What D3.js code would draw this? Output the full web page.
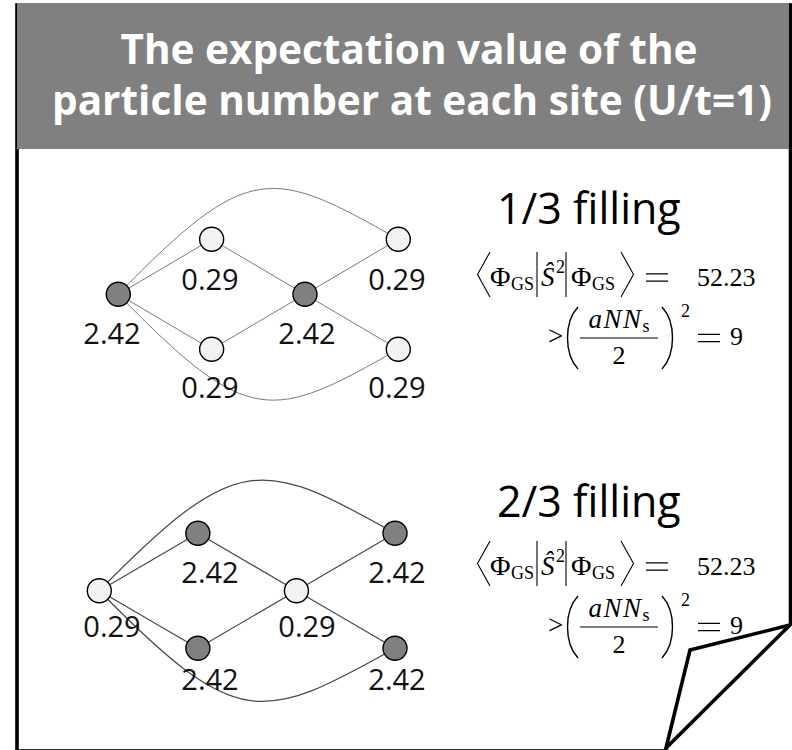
<!DOCTYPE html>
<html>
<head>
<meta charset="utf-8">
<script src="https://cdn.jsdelivr.net/npm/d3@7"></script>
<style>
  html, body { margin: 0; padding: 0; background: #fff; }
  svg { display: block; }
</style>
</head>
<body>
<svg id="chart" width="792" height="750"></svg>
<script>
// ---- data ----
const titleLines = ["The expectation value of the", "particle number at each site (U/t=1)"];

// six lattice sites: column index and row offset (-1 upper, 0 middle, +1 lower)
const siteColumn = [0, 1, 1, 2, 3, 3];
const siteRow = [0, -1, 1, 0, -1, 1];

// nearest-neighbour bonds between sites
const bonds = [[0, 1], [0, 2], [1, 3], [2, 3], [3, 4], [3, 5]];
// bonds that wrap round the lattice: [from, to, side it bows toward]
const wrapBonds = [[0, 4, -1], [0, 5, 1]];

// fillings and the expectation value of the particle number per site
const fillings = ["1/3 filling", "2/3 filling"];
const occupationOneThird = [2.42, 0.29, 0.29, 2.42, 0.29, 0.29];
const occupationTwoThirds = [0.29, 2.42, 2.42, 0.29, 2.42, 2.42];
const occupations = [occupationOneThird, occupationTwoThirds];

// <Phi_GS|S^2|Phi_GS> and the bound (a N N_s / 2)^2
const spinSquared = [52.23, 52.23];
const spinBound = [9, 9];

// ---- layout ----
const svg = d3.select("#chart");

const SANS = "'Open Sans', 'Noto Sans', sans-serif";
const SERIF = "'Liberation Serif', 'DejaVu Serif', serif";

// page frame
const frame = svg.append("g");
frame.append("rect")
  .attr("x", 17).attr("y", 5).attr("width", 773.5).attr("height", 746)
  .attr("fill", "#fff").attr("stroke", "#000").attr("stroke-width", 3.6);

// title band
frame.append("rect")
  .attr("x", 17).attr("y", 3).attr("width", 772).attr("height", 146)
  .attr("fill", "#808080");

const title = svg.append("g");
title.selectAll("text").data(titleLines).join("text")
  .attr("x", (d, i) => i === 0 ? 409 : 412)
  .attr("y", (d, i) => 64 + i * 51)
  .attr("text-anchor", "middle")
  .attr("font-family", SANS)
  .attr("font-weight", 700)
  .attr("font-size", 42)
  .attr("fill", "#fff")
  .text(d => d);

// fit the second title line to the band, the first line keeps the same scale
(function fitTitle() {
  const nodes = title.selectAll("text").nodes();
  const k = 720 / nodes[1].getComputedTextLength();
  nodes.forEach(n => {
    const w = n.getComputedTextLength();
    d3.select(n).attr("textLength", w * k).attr("lengthAdjust", "spacingAndGlyphs");
  });
})();

// ---- lattice panels ----
const panels = [
  { nodeX: [118.3, 398.3], nodeY: [239.3, 349.3], labelY: [290, 398],
    head: { x: 497, y: 224 }, formulaDy: 0, edge: { c: "#7a7a7a", w: 1 } },
  { nodeX: [99.3, 395], nodeY: [533.3, 648.3], labelY: [583, 690],
    head: { x: 497, y: 517 }, formulaDy: 289, edge: { c: "#4a4a4a", w: 1.25 } }
];
const labelX = d3.scaleLinear().domain([0, 1, 2, 3]).range([112, 210, 307, 397]);

panels.forEach((p, pi) => {
  const x = d3.scaleLinear().domain([0, 3]).range(p.nodeX);
  const y = d3.scaleLinear().domain([-1, 1]).range(p.nodeY);
  const ly = d3.scaleLinear().domain([-1, 1]).range(p.labelY);
  const vals = occupations[pi];
  const g = svg.append("g");

  // bonds
  g.selectAll("line.bond").data(bonds).join("line")
    .attr("class", "bond")
    .attr("x1", d => x(siteColumn[d[0]])).attr("y1", d => y(siteRow[d[0]]))
    .attr("x2", d => x(siteColumn[d[1]])).attr("y2", d => y(siteRow[d[1]]))
    .attr("stroke", p.edge.c).attr("stroke-width", p.edge.w);

  // wrap-round bonds as cubic curves bowing above / below the lattice
  g.selectAll("path.wrap").data(wrapBonds).join("path")
    .attr("class", "wrap")
    .attr("d", d => {
      const s = d[2];
      const c0 = siteColumn[d[0]], r0 = siteRow[d[0]];
      const c1 = siteColumn[d[1]], r1 = siteRow[d[1]];
      const path = d3.path();
      path.moveTo(x(c0), y(r0));
      path.bezierCurveTo(x(c0 + 1.4), y(r0 + s * 2.45), x(c1 - 1.35), y(r1 + s * 1.3), x(c1), y(r1));
      return path.toString();
    })
    .attr("fill", "none").attr("stroke", p.edge.c).attr("stroke-width", p.edge.w);

  // value at each site
  g.selectAll("text.val").data(vals).join("text")
    .attr("class", "val")
    .attr("x", (d, i) => labelX(siteColumn[i]))
    .attr("y", (d, i) => ly(siteRow[i]))
    .attr("text-anchor", "middle")
    .attr("font-family", SANS).attr("font-size", 29).attr("fill", "#111")
    .text(d => d.toFixed(2));

  // sites: dark when holding more than one particle
  g.selectAll("circle").data(vals).join("circle")
    .attr("cx", (d, i) => x(siteColumn[i]))
    .attr("cy", (d, i) => y(siteRow[i]))
    .attr("r", 12)
    .attr("fill", d => d > 1 ? "#808080" : "#f2f2f2")
    .attr("stroke", "#000").attr("stroke-width", 1.4);

  // filling heading
  svg.append("text")
    .attr("x", p.head.x).attr("y", p.head.y)
    .attr("font-family", SANS).attr("font-size", 43).attr("fill", "#000")
    .text(fillings[pi]);

  drawFormula(p.formulaDy, spinSquared[pi], spinBound[pi]);
});

// ---- spin expectation formula ----
function drawFormula(dy, value, bound) {
  const f = svg.append("g").attr("transform", `translate(0,${dy})`);
  const b1 = 286;          // first line baseline
  const ax = 338;          // second line math axis / fraction bar
  const b2 = ax + 7;       // second line baseline
  const thin = { "stroke": "#000", "stroke-width": 1.1, "fill": "none" };
  const put = (sel, attrs) => { Object.entries(attrs).forEach(([k, v]) => sel.attr(k, v)); return sel; };
  const txt = (s, xx, yy, size, italic) => f.append("text")
    .attr("x", xx).attr("y", yy)
    .attr("font-family", SERIF).attr("font-size", size)
    .attr("font-style", italic ? "italic" : "normal")
    .attr("fill", "#000").text(s);
  // "=" drawn as two rules, centred on a given height
  const equals = (x0, x1, yc) => put(f.append("path")
    .attr("d", `M${x0},${yc - 3.6}H${x1}M${x0},${yc + 3.6}H${x1}`), { ...thin, "stroke-width": 1.3 });

  // < Phi_GS | S^2 | Phi_GS > = value
  put(f.append("path").attr("d", `M490,${b1 - 34}L477.5,${b1 - 11.5}L490,${b1 + 11}`), thin);
  txt("Φ", 490, b1, 28);
  txt("GS", 511, b1 + 4, 18);
  put(f.append("path").attr("d", `M537,${b1 - 34}V${b1 + 11}`), thin);
  txt("Ŝ", 541, b1, 27, true);
  txt("2", 556, b1 - 13, 18);
  put(f.append("path").attr("d", `M566,${b1 - 34}V${b1 + 11}`), thin);
  txt("Φ", 571, b1, 28);
  txt("GS", 592, b1 + 4, 18);
  put(f.append("path").attr("d", `M621,${b1 - 34}L633.5,${b1 - 11.5}L621,${b1 + 11}`), thin);
  equals(646, 668, b1 - 8.5);
  txt(value.toFixed(2), 697, b1, 26);

  // > ( a N N_s / 2 )^2 = bound
  txt(">", 548, b2, 27);
  put(f.append("path").attr("d", `M578,${ax - 31}C564,${ax - 16} 564,${ax + 16} 578,${ax + 31}`), { ...thin, "stroke-width": 1.4 });
  const num = f.append("text").attr("x", 619).attr("y", ax - 10)
    .attr("text-anchor", "middle").attr("font-family", SERIF).attr("font-size", 27);
  num.append("tspan").attr("font-style", "italic").attr("letter-spacing", 1.5).text("aNN");
  num.append("tspan").attr("font-size", 18).attr("dy", 4).text("s");
  put(f.append("path").attr("d", `M580,${ax}H658`), thin);
  txt("2", 619, ax + 26, 26).attr("text-anchor", "middle");
  put(f.append("path").attr("d", `M662,${ax - 31}C676,${ax - 16} 676,${ax + 16} 662,${ax + 31}`), { ...thin, "stroke-width": 1.4 });
  txt("2", 681, ax - 21, 18);
  equals(698, 720, ax);
  txt(String(bound), 730, b2, 26);
}

// folded corner: cut the frame corner away, then draw the turned-up flap
svg.append("path")
  .attr("d", "M790,625L794,625L794,752L666,752Z")
  .attr("fill", "#fff");
svg.append("path")
  .attr("d", "M790,625L690,650L666,748Z")
  .attr("fill", "#fff").attr("stroke", "#000").attr("stroke-width", 3.6)
  .attr("stroke-linejoin", "miter");
</script>
</body>
</html>
